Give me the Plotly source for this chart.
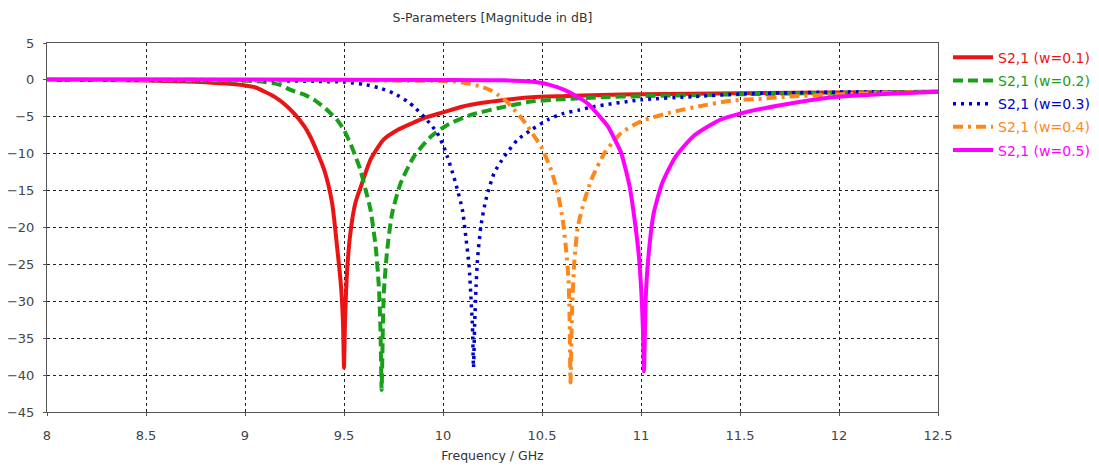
import plotly.graph_objects as go

# S2,1 magnitude (dB) vs frequency (GHz) for five widths
freq_w01 = [8.0, 8.3, 8.5, 8.7, 8.8, 8.9, 9.0, 9.05, 9.1, 9.15, 9.2, 9.25, 9.3, 9.33, 9.36,
            9.4, 9.44, 9.465, 9.485, 9.495, 9.5, 9.505, 9.515, 9.532, 9.557, 9.591, 9.634,
            9.7, 9.77, 9.85, 9.9, 10.0, 10.1, 10.2, 10.3, 10.45, 10.6, 10.8, 11.0, 11.5,
            12.0, 12.5]
s21_w01 = [0.0, -0.02, -0.08, -0.2, -0.32, -0.5, -0.75, -1.0, -1.6, -2.3, -3.3, -4.6, -6.3,
           -7.7, -9.5, -12.2, -16.7, -22.6, -28.0, -33.0, -39.0, -33.0, -26.2, -20.8, -16.7,
           -14.0, -10.8, -8.1, -6.8, -5.8, -5.2, -4.4, -3.6, -3.1, -2.75, -2.35, -2.2, -2.05,
           -1.95, -1.8, -1.7, -1.6]

freq_w02 = [8.0, 8.5, 8.8, 9.0, 9.1, 9.18, 9.23, 9.3, 9.36, 9.42, 9.465, 9.5, 9.532, 9.56,
            9.583, 9.61, 9.634, 9.66, 9.676, 9.684, 9.69, 9.696, 9.701, 9.718, 9.743, 9.786,
            9.853, 9.938, 10.022, 10.14, 10.276, 10.444, 10.613, 10.8, 11.0, 11.5, 12.0, 12.5]
s21_w02 = [0.0, -0.03, -0.08, -0.12, -0.28, -0.7, -1.36, -2.0, -2.9, -4.2, -5.4, -6.8, -8.6,
           -10.5, -12.2, -15.0, -17.6, -22.6, -28.0, -33.5, -42.0, -34.0, -28.9, -23.1, -18.1,
           -14.0, -10.4, -7.7, -6.1, -4.75, -3.84, -2.94, -2.6, -2.35, -2.2, -1.95, -1.75, -1.6]

freq_w03 = [8.0, 9.0, 9.35, 9.5, 9.6, 9.68, 9.75, 9.82, 9.86, 9.904, 9.94, 9.971, 10.0,
            10.022, 10.045, 10.064, 10.098, 10.115, 10.132, 10.14, 10.149, 10.154, 10.16,
            10.167, 10.174, 10.191, 10.216, 10.258, 10.309, 10.377, 10.444, 10.529, 10.6,
            10.689, 10.765, 11.0, 11.27, 11.51, 11.95, 12.5]
s21_w03 = [0.0, -0.05, -0.2, -0.3, -0.6, -1.1, -1.8, -2.9, -3.8, -5.0, -6.1, -7.2, -8.8,
           -10.4, -12.3, -14.0, -17.6, -21.2, -25.3, -28.9, -33.5, -39.0, -33.0, -28.0, -24.4,
           -19.9, -16.3, -12.65, -10.4, -8.1, -6.8, -5.4, -4.6, -4.07, -3.6, -2.7, -2.26, -1.9,
           -1.67, -1.6]

freq_w04 = [8.0, 9.0, 9.5, 9.8, 10.0, 10.073, 10.13, 10.191, 10.24, 10.276, 10.32, 10.36,
            10.4, 10.428, 10.46, 10.495, 10.546, 10.58, 10.605, 10.622, 10.634, 10.639,
            10.644, 10.652, 10.664, 10.681, 10.715, 10.748, 10.816, 10.9, 11.0, 11.137, 11.2,
            11.289, 11.458, 11.61, 11.75, 11.95, 12.28, 12.5]
s21_w04 = [0.0, 0.0, -0.05, -0.1, -0.15, -0.25, -0.5, -0.9, -1.4, -2.0, -2.9, -4.07, -5.3,
           -6.3, -7.6, -9.0, -12.2, -15.4, -19.0, -23.1, -27.1, -31.6, -41.0, -31.0, -24.4,
           -19.9, -16.3, -13.6, -9.9, -7.2, -5.6, -4.5, -4.1, -3.6, -2.8, -2.55, -2.26, -2.0,
           -1.7, -1.6]

freq_w05 = [8.0, 9.0, 10.0, 10.3, 10.44, 10.53, 10.613, 10.68, 10.731, 10.78, 10.833, 10.87,
            10.9, 10.943, 10.968, 10.988, 11.002, 11.01, 11.015, 11.02, 11.025, 11.039, 11.064,
            11.107, 11.175, 11.27, 11.4, 11.51, 11.71, 11.965, 12.2, 12.5]
s21_w05 = [0.1, 0.05, 0.0, -0.05, -0.23, -0.6, -1.36, -2.3, -3.2, -4.6, -6.3, -8.2, -9.9,
           -14.5, -19.0, -23.5, -28.9, -34.0, -39.5, -34.0, -28.9, -23.5, -18.1, -14.0, -10.4,
           -7.5, -5.4, -4.5, -3.4, -2.35, -1.95, -1.6]

labels = ["S2,1 (w=0.1)", "S2,1 (w=0.2)", "S2,1 (w=0.3)", "S2,1 (w=0.4)", "S2,1 (w=0.5)"]
x_ticks = [8, 8.5, 9, 9.5, 10, 10.5, 11, 11.5, 12, 12.5]
y_ticks = [5, 0, -5, -10, -15, -20, -25, -30, -35, -40, -45]

series = [
    (freq_w01, s21_w01, "rgb(235,20,20)", "solid", 4),
    (freq_w02, s21_w02, "rgb(25,160,25)", "10px,5px", 4),
    (freq_w03, s21_w03, "rgb(0,0,200)", "3px,5px", 3.5),
    (freq_w04, s21_w04, "rgb(255,135,25)", "10px,5px,3px,5px", 4),
    (freq_w05, s21_w05, "rgb(255,0,255)", "solid", 4),
]

fig = go.Figure()
for i, ((fx, fy, color, dash, width), label) in enumerate(zip(series, labels)):
    fig.add_trace(go.Scatter(
        x=fx, y=fy, mode="lines",
        name=f"<span style='color:{color}'>{label}</span>",
        legendgroup=f"g{i}",
        line=dict(color=color, dash=dash, width=width, shape="spline", smoothing=0.6),
    ))

font_family = "DejaVu Sans, Verdana, sans-serif"
axis_common = dict(
    showline=True, linecolor="#555", linewidth=1, mirror=True,
    showgrid=True, gridcolor="#222", gridwidth=1, griddash="3px,3px",
    ticks="outside", ticklen=3, tickcolor="#555",
    tickfont=dict(family=font_family, size=13, color="#444"),
    zeroline=False,
)

fig.update_layout(
    width=1099, height=468,
    margin=dict(l=47, r=161, t=43, b=56, autoexpand=False),
    paper_bgcolor="white", plot_bgcolor="white",
    title=dict(text="S-Parameters [Magnitude in dB]", x=0.5, xref="paper",
               y=0.962, yanchor="middle",
               font=dict(family=font_family, size=12.5, color="#333")),
    xaxis=dict(range=[8, 12.5], tickvals=x_ticks, ticklabelstandoff=8,
               title=dict(text="Frequency / GHz", standoff=9,
                          font=dict(family=font_family, size=12.5, color="#333")),
               automargin=False,
               **axis_common),
    yaxis=dict(range=[-45, 5], tickvals=y_ticks, ticklabelstandoff=6,
               automargin=False, **axis_common),
    legend=dict(x=0.8626, y=0.911, xref="container", yref="container",
                xanchor="left", yanchor="top",
                font=dict(family=font_family, size=14, color="#333"),
                bgcolor="rgba(0,0,0,0)", itemwidth=40, tracegroupgap=2),
    showlegend=True,
)

fig.write_html("out.html")
